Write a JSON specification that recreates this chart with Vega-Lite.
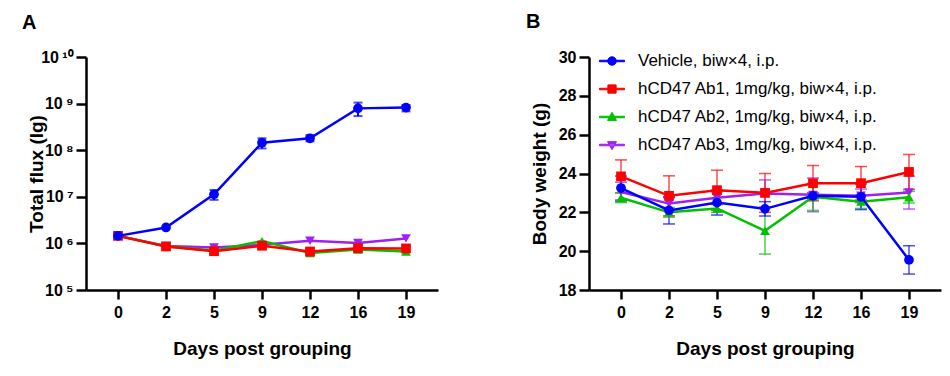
{
  "$schema": "https://vega.github.io/schema/vega-lite/v6.json",
  "padding": {"left": 22, "top": 12, "right": 5, "bottom": 5},
  "background": "white",
  "config": {
    "view": {"stroke": null},
    "font": "Liberation Sans",
    "axis": {
      "domainColor": "black", "domainWidth": 2.5, "tickColor": "black", "tickWidth": 2.5,
      "labelFont": "Liberation Sans", "labelFontWeight": "bold", "labelFontSize": 16, "labelColor": "black",
      "titleFont": "Liberation Sans", "titleFontWeight": "bold", "titleFontSize": 19, "titleColor": "black",
      "grid": false
    },
    "legend": {
      "orient": "none", "legendX": 10, "legendY": -9, "title": null, "padding": 0,
      "symbolSize": 625, "symbolStrokeWidth": 1, "symbolOpacity": 1, "labelFont": "Liberation Sans", "labelFontSize": 17,
      "labelColor": "black", "labelOffset": 13, "labelLimit": 400, "rowPadding": 7
    }
  },
  "datasets": {
    "flux": [
      {"day": 0, "group": "hCD47 Ab3, 1mg/kg, biw×4, i.p.", "v": 1450000},
      {"day": 2, "group": "hCD47 Ab3, 1mg/kg, biw×4, i.p.", "v": 880000},
      {"day": 5, "group": "hCD47 Ab3, 1mg/kg, biw×4, i.p.", "v": 820000},
      {"day": 9, "group": "hCD47 Ab3, 1mg/kg, biw×4, i.p.", "v": 930000},
      {"day": 12, "group": "hCD47 Ab3, 1mg/kg, biw×4, i.p.", "v": 1140000},
      {"day": 16, "group": "hCD47 Ab3, 1mg/kg, biw×4, i.p.", "v": 1020000},
      {"day": 19, "group": "hCD47 Ab3, 1mg/kg, biw×4, i.p.", "v": 1280000},
      {"day": 0, "group": "hCD47 Ab2, 1mg/kg, biw×4, i.p.", "v": 1450000},
      {"day": 2, "group": "hCD47 Ab2, 1mg/kg, biw×4, i.p.", "v": 870000},
      {"day": 5, "group": "hCD47 Ab2, 1mg/kg, biw×4, i.p.", "v": 700000},
      {"day": 9, "group": "hCD47 Ab2, 1mg/kg, biw×4, i.p.", "v": 1120000},
      {"day": 12, "group": "hCD47 Ab2, 1mg/kg, biw×4, i.p.", "v": 620000},
      {"day": 16, "group": "hCD47 Ab2, 1mg/kg, biw×4, i.p.", "v": 740000},
      {"day": 19, "group": "hCD47 Ab2, 1mg/kg, biw×4, i.p.", "v": 670000},
      {"day": 0, "group": "hCD47 Ab1, 1mg/kg, biw×4, i.p.", "v": 1450000},
      {"day": 2, "group": "hCD47 Ab1, 1mg/kg, biw×4, i.p.", "v": 860000},
      {"day": 5, "group": "hCD47 Ab1, 1mg/kg, biw×4, i.p.", "v": 680000},
      {"day": 9, "group": "hCD47 Ab1, 1mg/kg, biw×4, i.p.", "v": 890000},
      {"day": 12, "group": "hCD47 Ab1, 1mg/kg, biw×4, i.p.", "v": 670000},
      {"day": 16, "group": "hCD47 Ab1, 1mg/kg, biw×4, i.p.", "v": 790000},
      {"day": 19, "group": "hCD47 Ab1, 1mg/kg, biw×4, i.p.", "v": 780000},
      {"day": 0, "group": "Vehicle, biw×4, i.p.", "v": 1450000},
      {"day": 2, "group": "Vehicle, biw×4, i.p.", "v": 2200000},
      {"day": 5, "group": "Vehicle, biw×4, i.p.", "v": 11300000, "lo": 8600000, "hi": 14000000},
      {"day": 9, "group": "Vehicle, biw×4, i.p.", "v": 145000000, "lo": 109000000, "hi": 180000000},
      {"day": 12, "group": "Vehicle, biw×4, i.p.", "v": 180000000, "lo": 155000000, "hi": 210000000},
      {"day": 16, "group": "Vehicle, biw×4, i.p.", "v": 790000000, "lo": 540000000, "hi": 1050000000},
      {"day": 19, "group": "Vehicle, biw×4, i.p.", "v": 820000000, "lo": 680000000, "hi": 930000000}
    ],
    "bw": [
      {"day": 0, "group": "hCD47 Ab3, 1mg/kg, biw×4, i.p.", "v": 23.05, "lo": 22.55, "hi": 23.55},
      {"day": 2, "group": "hCD47 Ab3, 1mg/kg, biw×4, i.p.", "v": 22.45, "lo": 22.15, "hi": 22.75},
      {"day": 5, "group": "hCD47 Ab3, 1mg/kg, biw×4, i.p.", "v": 22.75, "lo": 22.45, "hi": 23.05},
      {"day": 9, "group": "hCD47 Ab3, 1mg/kg, biw×4, i.p.", "v": 22.97, "lo": 22.27, "hi": 23.67},
      {"day": 12, "group": "hCD47 Ab3, 1mg/kg, biw×4, i.p.", "v": 22.9, "lo": 22.03, "hi": 23.77},
      {"day": 16, "group": "hCD47 Ab3, 1mg/kg, biw×4, i.p.", "v": 22.85, "lo": 22.5, "hi": 23.2},
      {"day": 19, "group": "hCD47 Ab3, 1mg/kg, biw×4, i.p.", "v": 23.02, "lo": 22.17, "hi": 23.87},
      {"day": 0, "group": "hCD47 Ab2, 1mg/kg, biw×4, i.p.", "v": 22.75, "lo": 22.5, "hi": 23.0},
      {"day": 2, "group": "hCD47 Ab2, 1mg/kg, biw×4, i.p.", "v": 22.0, "lo": 21.75, "hi": 22.25},
      {"day": 5, "group": "hCD47 Ab2, 1mg/kg, biw×4, i.p.", "v": 22.2, "lo": 22.0, "hi": 22.4},
      {"day": 9, "group": "hCD47 Ab2, 1mg/kg, biw×4, i.p.", "v": 21.05, "lo": 19.85, "hi": 22.25},
      {"day": 12, "group": "hCD47 Ab2, 1mg/kg, biw×4, i.p.", "v": 22.8, "lo": 22.1, "hi": 23.5},
      {"day": 16, "group": "hCD47 Ab2, 1mg/kg, biw×4, i.p.", "v": 22.55, "lo": 22.2, "hi": 22.9},
      {"day": 19, "group": "hCD47 Ab2, 1mg/kg, biw×4, i.p.", "v": 22.78, "lo": 22.48, "hi": 23.08},
      {"day": 0, "group": "hCD47 Ab1, 1mg/kg, biw×4, i.p.", "v": 23.85, "lo": 23.0, "hi": 24.7},
      {"day": 2, "group": "hCD47 Ab1, 1mg/kg, biw×4, i.p.", "v": 22.85, "lo": 21.82, "hi": 23.88},
      {"day": 5, "group": "hCD47 Ab1, 1mg/kg, biw×4, i.p.", "v": 23.14, "lo": 22.11, "hi": 24.17},
      {"day": 9, "group": "hCD47 Ab1, 1mg/kg, biw×4, i.p.", "v": 23.0, "lo": 22.0, "hi": 24.0},
      {"day": 12, "group": "hCD47 Ab1, 1mg/kg, biw×4, i.p.", "v": 23.5, "lo": 22.59, "hi": 24.41},
      {"day": 16, "group": "hCD47 Ab1, 1mg/kg, biw×4, i.p.", "v": 23.5, "lo": 22.64, "hi": 24.36},
      {"day": 19, "group": "hCD47 Ab1, 1mg/kg, biw×4, i.p.", "v": 24.08, "lo": 23.18, "hi": 24.98},
      {"day": 0, "group": "Vehicle, biw×4, i.p.", "v": 23.25, "lo": 22.63, "hi": 23.87},
      {"day": 2, "group": "Vehicle, biw×4, i.p.", "v": 22.1, "lo": 21.4, "hi": 22.8},
      {"day": 5, "group": "Vehicle, biw×4, i.p.", "v": 22.5, "lo": 21.86, "hi": 23.14},
      {"day": 9, "group": "Vehicle, biw×4, i.p.", "v": 22.18, "lo": 21.81, "hi": 22.55},
      {"day": 12, "group": "Vehicle, biw×4, i.p.", "v": 22.85, "lo": 22.7, "hi": 23.0},
      {"day": 16, "group": "Vehicle, biw×4, i.p.", "v": 22.8, "lo": 22.14, "hi": 23.46},
      {"day": 19, "group": "Vehicle, biw×4, i.p.", "v": 19.55, "lo": 18.82, "hi": 20.28}
    ]
  },
  "hconcat": [
    {
      "width": 352, "height": 233,
      "title": {"text": "A", "anchor": "start", "frame": "group", "dx": -64, "offset": 16, "fontSize": 20, "fontWeight": "bold", "font": "Liberation Sans", "color": "black"},
      "data": {"name": "flux"},
      "encoding": {
        "x": {"field": "day", "type": "ordinal", "scale": {"type": "point", "padding": 0.667},
              "axis": {"title": "Days post grouping", "labelAngle": 0, "tickSize": 9, "labelPadding": 5, "titlePadding": 19}},
        "color": {"field": "group", "type": "nominal", "legend": null,
                  "scale": {"domain": ["Vehicle, biw×4, i.p.", "hCD47 Ab1, 1mg/kg, biw×4, i.p.", "hCD47 Ab2, 1mg/kg, biw×4, i.p.", "hCD47 Ab3, 1mg/kg, biw×4, i.p."],
                            "range": ["#0000ff", "#ff0000", "#00c000", "#a020f0"]}}
      },
      "layer": [
        {
          "transform": [{"filter": "isValid(datum.lo)"}],
          "mark": {"type": "rule", "strokeWidth": 2},
          "encoding": {
            "y": {"field": "lo", "type": "quantitative",
                  "scale": {"type": "log", "domain": [100000, 10000000000], "nice": false},
                  "axis": {"title": "Total flux (lg)", "values": [100000, 1000000, 10000000, 100000000, 1000000000, 10000000000], "tickCount": 10,
                           "labelExpr": "'10' + ['\u2009⁵','\u2009⁶','\u2009⁷','\u2009⁸','\u2009⁹','\u2009¹⁰'][round(log(datum.value)/LN10)-5]",
                           "tickSize": 10, "labelPadding": 3, "titlePadding": -6}},
            "y2": {"field": "hi"}
          }
        },
        {
          "transform": [{"filter": "isValid(datum.lo)"}],
          "mark": {"type": "tick", "size": 9, "thickness": 2},
          "encoding": {"y": {"field": "lo", "type": "quantitative"}}
        },
        {
          "transform": [{"filter": "isValid(datum.hi)"}],
          "mark": {"type": "tick", "size": 9, "thickness": 2},
          "encoding": {"y": {"field": "hi", "type": "quantitative"}}
        },
        {
          "mark": {"type": "line", "strokeWidth": 2.5},
          "encoding": {"y": {"field": "v", "type": "quantitative"}}
        },
        {
          "mark": {"type": "point", "filled": true, "size": 95, "opacity": 1},
          "encoding": {
            "y": {"field": "v", "type": "quantitative"},
            "shape": {"field": "group", "type": "nominal", "legend": null,
                      "scale": {"domain": ["Vehicle, biw×4, i.p.", "hCD47 Ab1, 1mg/kg, biw×4, i.p.", "hCD47 Ab2, 1mg/kg, biw×4, i.p.", "hCD47 Ab3, 1mg/kg, biw×4, i.p."],
                                "range": ["circle", "square", "triangle-up", "triangle-down"]}}
          }
        }
      ]
    },
    {
      "width": 352, "height": 233,
      "title": {"text": "B", "anchor": "start", "frame": "group", "dx": -63, "offset": 16, "fontSize": 20, "fontWeight": "bold", "font": "Liberation Sans", "color": "black"},
      "data": {"name": "bw"},
      "encoding": {
        "x": {"field": "day", "type": "ordinal", "scale": {"type": "point", "padding": 0.667},
              "axis": {"title": "Days post grouping", "labelAngle": 0, "tickSize": 9, "labelPadding": 5, "titlePadding": 19}},
        "color": {"field": "group", "type": "nominal",
                  "scale": {"domain": ["Vehicle, biw×4, i.p.", "hCD47 Ab1, 1mg/kg, biw×4, i.p.", "hCD47 Ab2, 1mg/kg, biw×4, i.p.", "hCD47 Ab3, 1mg/kg, biw×4, i.p."],
                            "range": ["#0000ff", "#ff0000", "#00c000", "#a020f0"]},
                  "legend": {"symbolType": {"expr": "['M-1,-0.06H1V0.06H-1ZM0.34,0A0.34,0.34,0,1,1,-0.34,0A0.34,0.34,0,1,1,0.34,0Z','M-1,-0.06H1V0.06H-1ZM-0.33,-0.33H0.33V0.33H-0.33Z','M-1,-0.06H1V0.06H-1ZM0,-0.38L0.36,0.27H-0.36Z','M-1,-0.06H1V0.06H-1ZM0,0.38L0.36,-0.27H-0.36Z'][datum.index]"}}}
      },
      "layer": [
        {
          "mark": {"type": "rule", "strokeWidth": 1.5, "opacity": 0.7},
          "encoding": {
            "y": {"field": "lo", "type": "quantitative",
                  "scale": {"domain": [18, 30], "nice": false, "zero": false},
                  "axis": {"title": "Body weight (g)", "values": [18, 20, 22, 24, 26, 28, 30], "tickCount": 10, "tickSize": 10, "labelPadding": 3, "titlePadding": 9}},
            "y2": {"field": "hi"}
          }
        },
        {
          "mark": {"type": "tick", "size": 12, "thickness": 1.5, "opacity": 0.7},
          "encoding": {"y": {"field": "lo", "type": "quantitative"}}
        },
        {
          "mark": {"type": "tick", "size": 12, "thickness": 1.5, "opacity": 0.7},
          "encoding": {"y": {"field": "hi", "type": "quantitative"}}
        },
        {
          "mark": {"type": "line", "strokeWidth": 2.5},
          "encoding": {"y": {"field": "v", "type": "quantitative"}}
        },
        {
          "mark": {"type": "point", "filled": true, "size": 95, "opacity": 1},
          "encoding": {
            "y": {"field": "v", "type": "quantitative"},
            "shape": {"field": "group", "type": "nominal", "legend": null,
                      "scale": {"domain": ["hCD47 Ab1, 1mg/kg, biw×4, i.p.", "Vehicle, biw×4, i.p.", "hCD47 Ab2, 1mg/kg, biw×4, i.p.", "hCD47 Ab3, 1mg/kg, biw×4, i.p."],
                                "range": ["square", "circle", "triangle-up", "triangle-down"]}}
          }
        }
      ]
    }
  ],
  "spacing": 151,
  "bounds": "flush",
  "resolve": {"scale": {"color": "independent", "shape": "independent", "x": "independent", "y": "independent"}, "legend": {"color": "independent", "shape": "independent"}}
}
